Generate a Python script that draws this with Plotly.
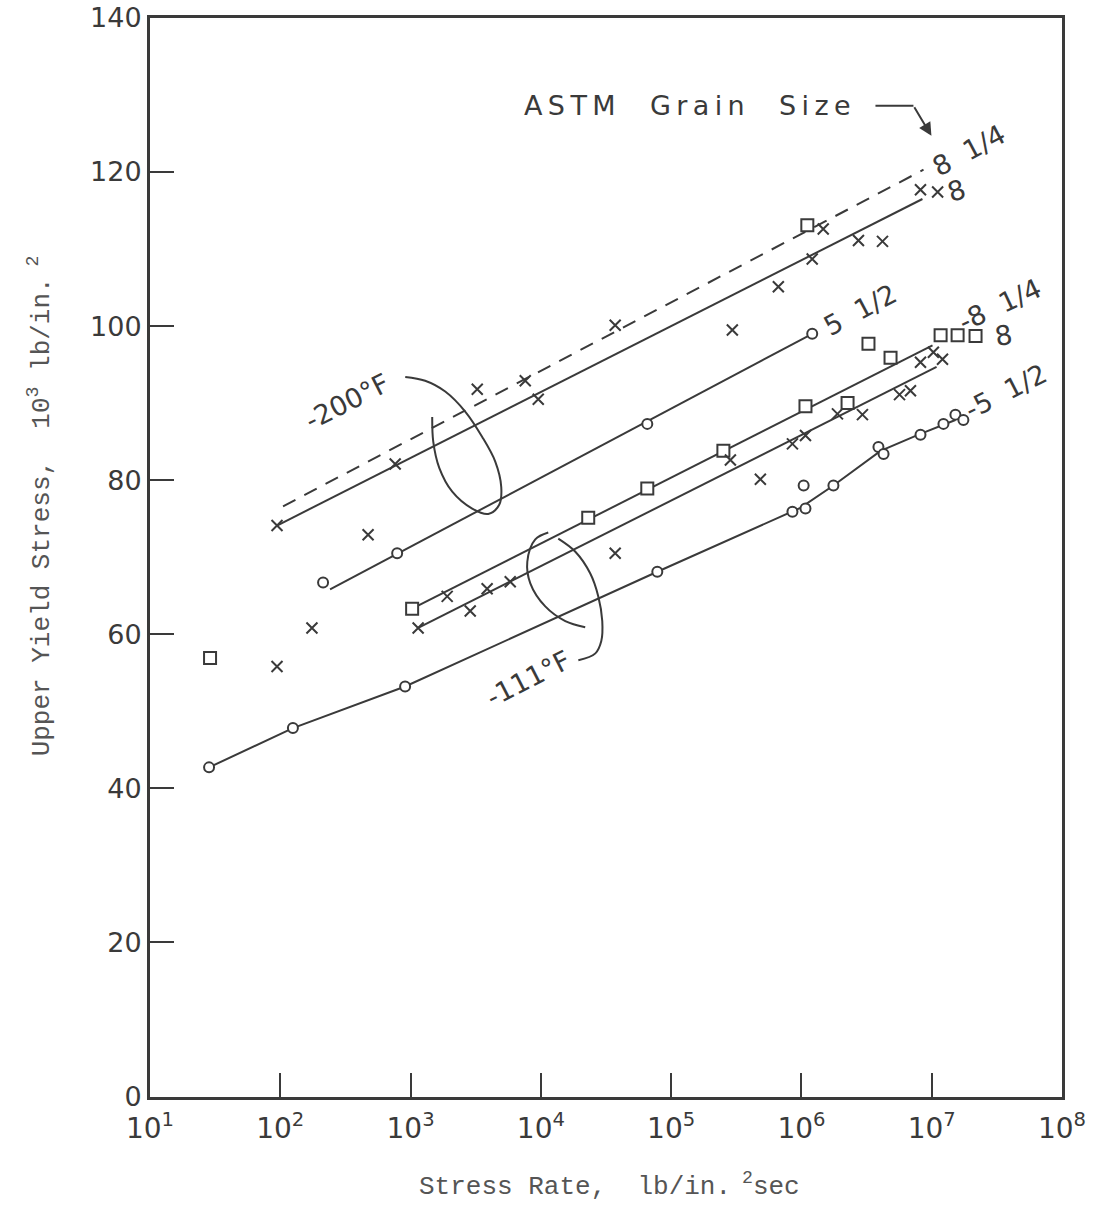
import numpy as np
import plotly.graph_objects as go

# ---------------- data ----------------
# squares
sq_x = [28.9, 1028, 23100, 65600, 251800, 1.074e6, 2.26e6, 3.27e6, 4.83e6, 1.17e7, 1.58e7, 2.17e7, 1.11e6]
sq_y = [56.9, 63.3, 75.1, 78.9, 83.8, 89.6, 90.0, 97.7, 95.9, 98.8, 98.8, 98.7, 113.1]

# crosses, -200 F
x200_x = [94.4, 94.4, 175, 472, 762, 3250, 7590, 9550, 37200, 295000, 665000, 1.21e6, 1.47e6, 2.74e6, 4.19e6, 8.2e6, 1.11e7]
x200_y = [74.1, 55.8, 60.8, 72.9, 82.1, 91.8, 92.9, 90.5, 100.1, 99.5, 105.1, 108.7, 112.6, 111.1, 111.0, 117.7, 117.4]
# crosses, -111 F
x111_x = [1143, 1910, 2870, 3870, 5820, 37200, 285000, 484000, 853000, 1.074e6, 1.89e6, 2.94e6, 5.66e6, 6.87e6, 8.2e6, 1.03e7, 1.21e7]
x111_y = [60.8, 64.9, 63.0, 65.9, 66.8, 70.5, 82.6, 80.1, 84.7, 85.8, 88.6, 88.5, 91.1, 91.6, 95.3, 96.6, 95.7]

# circles
c200_x = [213, 789, 65600, 1.21e6]
c200_y = [66.7, 70.5, 87.3, 99.0]
c111_x = [28.4, 125, 908, 78300, 853000, 1.074e6, 1.04e6, 1.76e6, 3.90e6, 4.27e6, 8.2e6, 1.23e7, 1.52e7, 1.75e7]
c111_y = [42.7, 47.8, 53.2, 68.1, 75.9, 76.3, 79.3, 79.3, 84.3, 83.4, 85.9, 87.3, 88.5, 87.8]

# faired curves
fit200_814_x = [105, 8.65e6]
fit200_814_y = [76.6, 120.3]
fit200_8_x = [94.4, 8.49e6]
fit200_8_y = [74.1, 116.5]
fit200_512_x = [241, 1.21e6]
fit200_512_y = [65.8, 99.0]
fit111_814_x = [1028, 1.014e7]
fit111_814_y = [63.3, 97.5]
fit111_8_x = [1143, 1.09e7]
fit111_8_y = [60.8, 94.7]
fit111_512_x = [28.4, 125, 908, 78300, 982000, 1.76e6, 4.05e6, 7.93e6, 1.52e7]
fit111_512_y = [42.7, 47.8, 53.2, 68.1, 76.4, 79.3, 83.8, 85.9, 87.8]

# hand-drawn brackets
br200_x = [910, 1294, 1845, 2626, 3548, 4467, 4966, 4790, 3945, 2972, 2089, 1660, 1493, 1466]
br200_y = [93.4, 92.9, 91.5, 88.9, 85.6, 82.4, 79.1, 76.8, 75.6, 76.3, 78.5, 81.6, 85.0, 88.2]
br111a_x = [11400, 9060, 7870, 8300, 10810, 15400, 21900]
br111a_y = [73.2, 72.3, 69.4, 66.6, 63.6, 61.7, 60.9]
br111b_x = [13600, 18400, 23900, 27600, 29600, 29100, 26200, 19400]
br111b_y = [72.4, 70.7, 67.9, 64.9, 61.7, 59.1, 57.5, 56.6]

# labels
lab_text = ["8  1/4", "8", "5  1/2", "-8  1/4", "8", "-5  1/2", "-200°F", "-111°F"]
lab_x = [1.92e7, 1.55e7, 2.84e6, 3.37e7, 3.56e7, 3.69e7, 326, 8000]
lab_y = [122.8, 117.6, 102.2, 102.8, 98.8, 91.5, 90.2, 54.3]
lab_ang = [-28, -18, -28, -25, -10, -27, -27, -27]

astm_text = "A\u2009S\u2009T\u2009M    G\u2009r\u2009a\u2009i\u2009n    S\u2009i\u2009z\u2009e"
astm_x, astm_y = 133000, 128.6
arrow_x = [3.70e6, 7.24e6, 9.95e6]
arrow_y = [128.6, 128.6, 124.7]

x_ticks = [10, 1e2, 1e3, 1e4, 1e5, 1e6, 1e7, 1e8]
x_ticktext = ["10<sup>1</sup>", "10<sup>2</sup>", "10<sup>3</sup>", "10<sup>4</sup>",
              "10<sup>5</sup>", "10<sup>6</sup>", "10<sup>7</sup>", "10<sup>8</sup>"]
y_ticks = [0, 20, 40, 60, 80, 100, 120, 140]

# ---------------- figure ----------------
INK = "#3a3a3a"
LEROY = "DejaVu Sans"
TYPE = "Liberation Mono, Courier New, monospace"

fig = go.Figure()

def line(xs, ys, dash="solid"):
    fig.add_trace(go.Scatter(x=xs, y=ys, mode="lines",
                             line=dict(color=INK, width=2, dash=dash),
                             hoverinfo="skip", showlegend=False))

line(fit200_814_x, fit200_814_y, "14px,10px")
line(fit200_8_x, fit200_8_y)
line(fit200_512_x, fit200_512_y)
line(fit111_814_x, fit111_814_y)
line(fit111_8_x, fit111_8_y)
line(fit111_512_x, fit111_512_y)

for bx, by in [(br200_x, br200_y), (br111a_x, br111a_y), (br111b_x, br111b_y)]:
    fig.add_trace(go.Scatter(x=bx, y=by, mode="lines",
                             line=dict(color=INK, width=2, shape="spline"),
                             hoverinfo="skip", showlegend=False))

# arrow horizontal part
fig.add_trace(go.Scatter(x=arrow_x[:2], y=arrow_y[:2], mode="lines",
                         line=dict(color=INK, width=2), hoverinfo="skip", showlegend=False))

fig.add_trace(go.Scatter(x=sq_x, y=sq_y, mode="markers",
                         marker=dict(symbol="square", size=12, color="white",
                                     line=dict(color=INK, width=2)),
                         showlegend=False))
for cx, cy in [(c200_x, c200_y), (c111_x, c111_y)]:
    fig.add_trace(go.Scatter(x=cx, y=cy, mode="markers",
                             marker=dict(symbol="circle", size=10, color="white",
                                         line=dict(color=INK, width=2)),
                             showlegend=False))
for xx, xy in [(x200_x, x200_y), (x111_x, x111_y)]:
    fig.add_trace(go.Scatter(x=xx, y=xy, mode="markers",
                             marker=dict(symbol="x-thin-open", size=11, color=INK,
                                         line=dict(color=INK, width=2)),
                             showlegend=False))

annotations = []
for t, lx, ly, a in zip(lab_text, lab_x, lab_y, lab_ang):
    annotations.append(dict(x=np.log10(lx), y=ly, xref="x", yref="y", text=t,
                            showarrow=False, textangle=a,
                            font=dict(family=LEROY, size=27, color=INK)))
annotations.append(dict(x=np.log10(astm_x), y=astm_y, xref="x", yref="y", text=astm_text,
                        showarrow=False, font=dict(family=LEROY, size=27, color=INK)))
annotations.append(dict(x=np.log10(arrow_x[2]), y=arrow_y[2], xref="x", yref="y",
                        ax=np.log10(arrow_x[1]), ay=arrow_y[1], axref="x", ayref="y",
                        text="", showarrow=True, arrowhead=2, arrowsize=1.3,
                        arrowwidth=2, arrowcolor=INK))
annotations.append(dict(x=-0.121, y=0.548, xref="paper", yref="paper",
                        xanchor="center", yanchor="middle",
                        text="Upper Yield Stress,  10<sup>3</sup> lb/in.<sup> 2</sup>",
                        textangle=-90, showarrow=False,
                        font=dict(family=TYPE, size=26, color="#555")))
annotations.append(dict(x=0.504, y=-0.0815, xref="paper", yref="paper",
                        xanchor="center", yanchor="middle",
                        text="Stress Rate,  lb/in.<sup> 2</sup>sec",
                        showarrow=False,
                        font=dict(family=TYPE, size=26, color="#555")))

fig.update_layout(
    width=1108, height=1207,
    margin=dict(l=150, r=46, t=18, b=110, autoexpand=False),
    paper_bgcolor="white", plot_bgcolor="white",
    annotations=annotations,
    showlegend=False,
)
fig.update_xaxes(type="log", range=[1, 8], tickvals=x_ticks, ticktext=x_ticktext,
                 ticks="inside", ticklen=24, tickwidth=2, tickcolor=INK,
                 showline=True, linewidth=3, linecolor=INK, mirror=True,
                 showgrid=False, zeroline=False, ticklabelstandoff=4, automargin=False,
                 tickfont=dict(family=LEROY, size=28, color=INK))
fig.update_yaxes(range=[-0.1, 140], tickvals=y_ticks,
                 ticks="inside", ticklen=24, tickwidth=2, tickcolor=INK,
                 showline=True, linewidth=3, linecolor=INK, mirror=True,
                 showgrid=False, zeroline=False, automargin=False,
                 tickfont=dict(family=LEROY, size=27, color=INK))

fig.write_html("out.html")
